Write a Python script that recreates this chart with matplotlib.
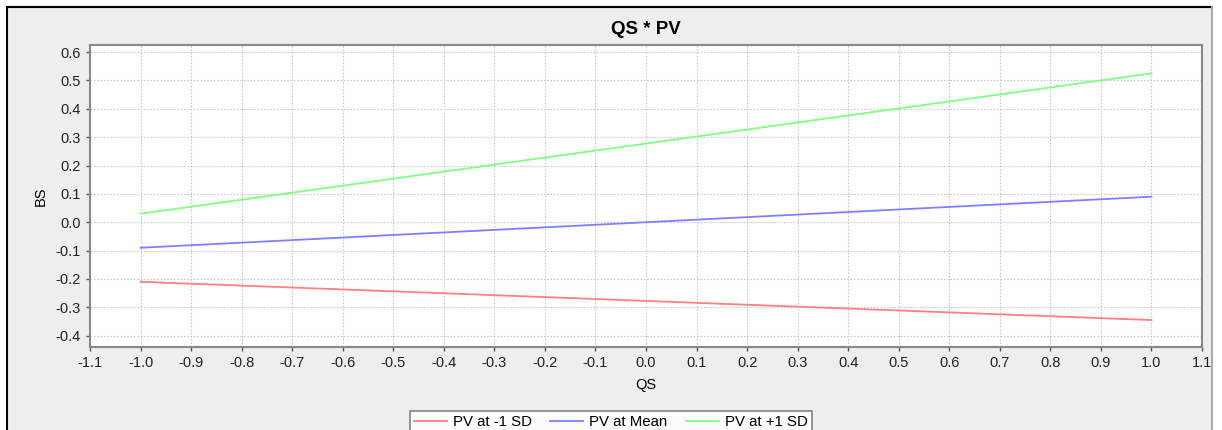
import matplotlib
matplotlib.use('Agg')
import matplotlib.pyplot as plt
from matplotlib.patches import Rectangle
import numpy as np

qs = [-1.0, 1.0]
pv_low = [-0.21, -0.345]
pv_mean = [-0.09, 0.09]
pv_high = [0.03, 0.525]
labels = ['PV at -1 SD', 'PV at Mean', 'PV at +1 SD']
colors = ['#FF8080', '#8080FF', '#80FF80']
xticks = np.round(np.arange(-1.1, 1.11, 0.1), 1)
yticks = np.round(np.arange(-0.4, 0.61, 0.1), 1)

plt.rcParams['font.family'] = ['Liberation Sans', 'DejaVu Sans']

fig = plt.figure(figsize=(12.22, 4.30), dpi=100)
fig.patch.set_facecolor('white')
# panel background with border
fig.patches.append(Rectangle((7/1222, 0), (1212 - 7)/1222, 1 - 7/430,
                             transform=fig.transFigure, facecolor='#EEEEEE',
                             edgecolor='none', zorder=-2))
fig.add_artist(plt.Line2D([7/1222, 7/1222], [0, 1 - 7/430], color='black', lw=1.5, transform=fig.transFigure))
fig.add_artist(plt.Line2D([7/1222, 1212/1222], [1 - 7/430, 1 - 7/430], color='black', lw=1.5, transform=fig.transFigure))
fig.add_artist(plt.Line2D([1212/1222, 1212/1222], [0, 1 - 7/430], color='#AAAAAA', lw=1.5, transform=fig.transFigure))

ax = fig.add_axes([90/1222, 1 - 347/430, (1202 - 90)/1222, (347 - 45)/430])
ax.set_facecolor('white')

for ys, c, lab in zip([pv_low, pv_mean, pv_high], colors, labels):
    ax.plot(qs, ys, color=c, lw=1.3, label=lab)

ax.set_xlim(-1.1, 1.1)
ax.set_ylim(-0.44, 0.625)
ax.set_xticks(xticks)
ax.set_xticklabels([f'{abs(v) if v == 0 else v:.1f}' for v in xticks])
ax.set_yticks(yticks)
ax.set_yticklabels([f'{abs(v) if v == 0 else v:.1f}' for v in yticks])
ax.grid(True, color='#C8C8C8', linestyle=(0, (1.5, 1.5)), lw=0.8)
ax.tick_params(labelsize=10.5, colors='#555555', length=3, width=1, labelcolor='#222222')
for s in ax.spines.values():
    s.set_color('#888888')
    s.set_linewidth(1.5)

ax.set_title('QS * PV', fontsize=13.5, fontweight='bold', pad=8)
ax.set_xlabel('QS', fontsize=10.5, labelpad=6)
ax.set_ylabel('BS', fontsize=10.5, labelpad=6)

leg = fig.legend(loc='upper center', bbox_to_anchor=(611/1222, 1 - 403/430), ncol=3,
                 fontsize=10.8, frameon=True, fancybox=False, edgecolor='#666666',
                 handlelength=2.2, columnspacing=1.2, handletextpad=0.4, borderpad=0.3)
leg.get_frame().set_linewidth(1.2)

fig.savefig('out.png', dpi=100, facecolor=fig.get_facecolor())
